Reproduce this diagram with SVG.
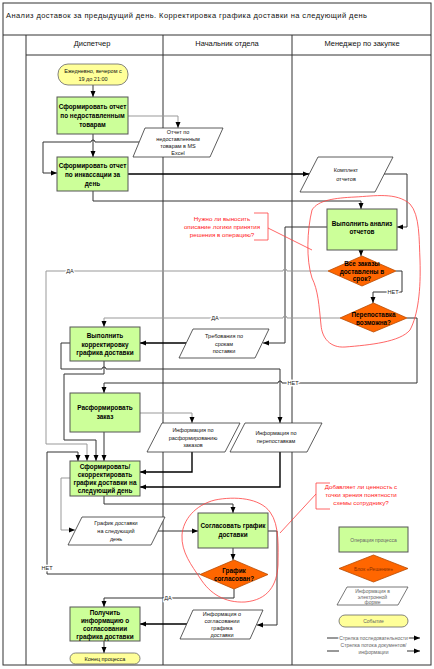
<svg xmlns="http://www.w3.org/2000/svg" width="434" height="669" viewBox="0 0 434 669">
<style>
.frame{fill:none;stroke:#333;stroke-width:1}
.op{fill:#ccff99;stroke:#555;stroke-width:1}
.dec{fill:#ff6600;stroke:#b84a00;stroke-width:0.8}
.ev{fill:#ffff99;stroke:#666;stroke-width:0.8}
.data{fill:#fff;stroke:#333;stroke-width:0.8}
.t{font-family:"Liberation Sans",Arial,sans-serif;font-size:5.5px;fill:#111;text-anchor:middle}
.tb{font-weight:bold;font-size:6.4px;fill:#000}
.hd{font-size:7.5px}
.lbl{font-size:5.5px;stroke:#fff;stroke-width:2.5;paint-order:stroke;fill:#222}
.ln{fill:none;stroke:#333;stroke-width:1}
.lg{fill:none;stroke:#999;stroke-width:1}
.lk{fill:none;stroke:#000;stroke-width:1.4}
.red{fill:none;stroke:#ff4040;stroke-width:0.8}
.rt{fill:#ff2020;font-size:6.2px}
.lgd{fill:#666;font-size:5px}
</style>
<defs>
<marker id="ah" viewBox="0 0 6 6" refX="6" refY="3" markerWidth="6" markerHeight="6" markerUnits="userSpaceOnUse" orient="auto"><path d="M0,0.5 L6,3 L0,5.5 z" fill="#000"/></marker>
</defs>
<rect width="434" height="669" fill="#fff"/>

<g id="frame">
<rect class="frame" x="3" y="3" width="428" height="662"/>
<line class="frame" x1="3" y1="35" x2="431" y2="35"/>
<line class="frame" x1="26" y1="55" x2="431" y2="55"/>
<line class="frame" x1="26" y1="35" x2="26" y2="665"/>
<line class="frame" x1="163" y1="35" x2="163" y2="665"/>
<line class="frame" x1="292" y1="35" x2="292" y2="665"/>
<text class="t hd" x="6" y="18" text-anchor="start" style="text-anchor:start" textLength="361" lengthAdjust="spacing">Анализ доставок за предыдущий день. Корректировка графика доставки на следующий день</text>
<text class="t hd" x="92" y="46">Диспетчер</text>
<text class="t hd" x="227" y="46">Начальник отдела</text>
<text class="t hd" x="362" y="46">Менеджер по закупке</text>
</g>

<g id="connectors">
<path class="ln" d="M93,85 V97" marker-end="url(#ah)"/>
<path class="lg" d="M128,116 H178 V128" marker-end="url(#ah)"/>
<path class="ln" d="M93,134 V157" marker-end="url(#ah)"/>
<path class="ln" d="M139,142 H95 a2,2 0 0 0 -4,0 H43 V173 H57" marker-end="url(#ah)"/>
<path class="lk" d="M128,174 H309" marker-end="url(#ah)"/>
<path class="ln" d="M93,191 V201 H361 V209" marker-end="url(#ah)"/>
<path class="ln" d="M384,174 H407 V227 H397" marker-end="url(#ah)"/>
<path class="ln" d="M327,227 H285 V343 H263" marker-end="url(#ah)"/>
<path class="ln" d="M361,250 V256" marker-end="url(#ah)"/>
<path class="lg" d="M328,271 H287 a2,2 0 0 0 -4,0 H46 V444 H87 V461" marker-end="url(#ah)"/>
<path class="ln" d="M396,271 H402 V292 H373 V303" marker-end="url(#ah)"/>
<path class="lg" d="M340,318 H287 a2,2 0 0 0 -4,0 H104 V327" marker-end="url(#ah)"/>
<path class="ln" d="M407,318 H417 V383 H282 a2,2 0 0 0 -4,0 H104 V393" marker-end="url(#ah)"/>
<path class="lk" d="M186,343 H140" marker-end="url(#ah)"/>
<path class="ln" d="M70,343 H61 V369 H102 a2,2 0 0 1 4,0 H280 V423" marker-end="url(#ah)"/>
<path class="ln" d="M104,361 V374 H64 V440 H96 V461" marker-end="url(#ah)"/>
<path class="lg" d="M140,413 H192 V423" marker-end="url(#ah)"/>
<path class="ln" d="M104,432 V461" marker-end="url(#ah)"/>
<path class="lk" d="M192,452 V472 H140" marker-end="url(#ah)"/>
<path class="lk" d="M280,452 V487 H140" marker-end="url(#ah)"/>
<path class="ln" d="M104,496 V504 H233 V513" marker-end="url(#ah)"/>
<path class="lg" d="M70,478 H61 V530 H75" marker-end="url(#ah)"/>
<path class="ln" d="M158,531 H198" marker-end="url(#ah)"/>
<path class="ln" d="M233,548 V560" marker-end="url(#ah)"/>
<path class="ln" d="M200,574 H47 V452 H78 V461" marker-end="url(#ah)"/>
<path class="ln" d="M234,589 V598 H104 V607" marker-end="url(#ah)"/>
<path class="ln" d="M268,531 H277 V625 H257" marker-end="url(#ah)"/>
<path class="lk" d="M187,624 H140" marker-end="url(#ah)"/>
<path class="ln" d="M104,641 V653" marker-end="url(#ah)"/>
<text class="t lbl" x="70" y="273">ДА</text>
<text class="t lbl" x="393" y="294">НЕТ</text>
<text class="t lbl" x="215" y="320">ДА</text>
<text class="t lbl" x="293" y="385">НЕТ</text>
<text class="t lbl" x="47" y="570">НЕТ</text>
<text class="t lbl" x="168" y="600">ДА</text>
</g>

<g id="start">
<rect class="ev" x="58" y="64" width="70" height="21" rx="10"/>
<text class="t" x="93" y="73">Ежедневно, вечером с</text>
<text class="t" x="93" y="80.5">19 до 21:00</text>
</g>
<g id="op-report-undelivered">
<rect class="op" x="57" y="97" width="71" height="37"/>
<text class="t tb" x="92.5" y="109">Сформировать отчет</text>
<text class="t tb" x="92.5" y="118">по недоставленным</text>
<text class="t tb" x="92.5" y="127">товарам</text>
</g>
<g id="data-excel">
<polygon class="data" points="145,128 223,128 210,157 133,157"/>
<text class="t" x="178" y="134">Отчет по</text>
<text class="t" x="178" y="141">недоставленным</text>
<text class="t" x="178" y="148">товарам в MS</text>
<text class="t" x="178" y="155">Excel</text>
</g>
<g id="op-report-cash">
<rect class="op" x="57" y="157" width="71" height="34"/>
<text class="t tb" x="92.5" y="168">Сформировать отчет</text>
<text class="t tb" x="92.5" y="177">по инкассации за</text>
<text class="t tb" x="92.5" y="186">день</text>
</g>
<g id="data-set">
<polygon class="data" points="318,157 393,157 375,192 300,192"/>
<text class="t" x="346" y="172">Комплект</text>
<text class="t" x="346" y="181">отчетов</text>
</g>
<g id="op-analysis">
<rect class="op" x="327" y="209" width="70" height="41"/>
<text class="t tb" x="362" y="226">Выполнить анализ</text>
<text class="t tb" x="362" y="234">отчетов</text>
</g>
<g id="dec-ontime">
<polygon class="dec" points="362,256 396,271 362,286 328,271"/>
<text class="t tb" x="362" y="266">Все заказы</text>
<text class="t tb" x="362" y="273.5">доставлены в</text>
<text class="t tb" x="362" y="281">срок?</text>
</g>
<g id="dec-redelivery">
<polygon class="dec" points="373.5,303 407,318 373.5,332 340,318"/>
<text class="t tb" x="373.5" y="317">Перепоставка</text>
<text class="t tb" x="373.5" y="325">возможна?</text>
</g>
<g id="data-requirements">
<polygon class="data" points="193,329 269,329 255,358 179,358"/>
<text class="t" x="224" y="338">Требования по</text>
<text class="t" x="224" y="345.5">срокам</text>
<text class="t" x="224" y="353">поставки</text>
</g>
<g id="op-correct">
<rect class="op" x="70" y="327" width="70" height="34"/>
<text class="t tb" x="105" y="338">Выполнить</text>
<text class="t tb" x="105" y="346.5">корректировку</text>
<text class="t tb" x="105" y="355">графика доставки</text>
</g>
<g id="op-disband">
<rect class="op" x="70" y="393" width="70" height="39"/>
<text class="t tb" x="105" y="410">Расформировать</text>
<text class="t tb" x="105" y="419">заказ</text>
</g>
<g id="data-disband">
<polygon class="data" points="162,423 240,423 225,452 147,452"/>
<text class="t" x="193" y="432">Информация по</text>
<text class="t" x="193" y="439.5">расформированию</text>
<text class="t" x="193" y="447">заказов</text>
</g>
<g id="data-redelivery">
<polygon class="data" points="245,423 322,423 307,452 230,452"/>
<text class="t" x="276" y="435">Информация по</text>
<text class="t" x="276" y="443">перепоставкам</text>
</g>
<g id="op-schedule">
<rect class="op" x="70" y="461" width="70" height="35"/>
<text class="t tb" x="105" y="469">Сформировать/</text>
<text class="t tb" x="105" y="477">скорректировать</text>
<text class="t tb" x="105" y="485">график доставки на</text>
<text class="t tb" x="105" y="493">следующий день</text>
</g>
<g id="data-schedule">
<polygon class="data" points="82,517 165,517 151,545 68,545"/>
<text class="t" x="116" y="525">График доставки</text>
<text class="t" x="116" y="533">на следующий</text>
<text class="t" x="116" y="540.5">день</text>
</g>
<g id="op-approve">
<rect class="op" x="198" y="513" width="70" height="35"/>
<text class="t tb" x="233" y="528">Согласовать график</text>
<text class="t tb" x="233" y="537">доставки</text>
</g>
<g id="dec-approved">
<polygon class="dec" points="234,560 268,574.5 234,589 200,574.5"/>
<text class="t tb" x="234" y="573">График</text>
<text class="t tb" x="234" y="581">согласован?</text>
</g>
<g id="data-approval">
<polygon class="data" points="193,610 263,610 250,639 180,639"/>
<text class="t" x="222" y="616">Информация о</text>
<text class="t" x="222" y="623">согласовании</text>
<text class="t" x="222" y="630">графика</text>
<text class="t" x="222" y="637">доставки</text>
</g>
<g id="op-receive">
<rect class="op" x="70" y="607" width="70" height="34"/>
<text class="t tb" x="105" y="615">Получить</text>
<text class="t tb" x="105" y="623">информацию о</text>
<text class="t tb" x="105" y="631">согласовании</text>
<text class="t tb" x="105" y="639">графика доставки</text>
</g>
<g id="end">
<rect class="ev" x="70" y="653" width="70" height="11" rx="5.5"/>
<text class="t" x="105" y="660.5">Конец процесса</text>
</g>

<g id="note-1">
<path class="red" d="M312,210 C318,200 335,198 355,197 C375,196 396,192 410,204 C420,215 419,240 420,260 C421,290 418,315 410,330 C400,342 370,345 345,347 C330,348 322,338 321,325 C319,305 318,290 312,278 C306,260 307,230 312,210 Z"/>
<path class="red" d="M254,213 H268 V240 H254 M268,228 L312,250"/>
<text class="t rt" x="222" y="220.5">Нужно ли выносить</text>
<text class="t rt" x="222" y="228.5">описание логики принятия</text>
<text class="t rt" x="222" y="236.5">решения в операцию?</text>
</g>
<g id="note-2">
<path class="red" d="M182,535 C183,520 195,505 215,500 C235,496 260,498 270,512 C280,525 278,550 278,565 C277,585 268,600 245,602 C225,603 210,594 200,578 C192,566 181,552 182,535 Z"/>
<path class="red" d="M330,483 H316 V509 H330 M316,494 L280,533"/>
<text class="t rt" x="361" y="489">Добавляет ли ценность с</text>
<text class="t rt" x="361" y="497">точки зрения понятности</text>
<text class="t rt" x="361" y="505">схемы сотруднику?</text>
</g>

<g id="legend">
<rect class="op" x="339" y="527" width="69" height="25"/>
<text class="t lgd" x="373.5" y="541.5">Операция процесса</text>
<polygon class="dec" points="373.5,555 408,568.5 373.5,582 339,568.5"/>
<text class="t lgd" x="373.5" y="570.5" style="fill:#8a3000">Блок «Решение»</text>
<polygon class="data" points="347,587 408,587 398,605 337,605" style="stroke:#555"/>
<text class="t lgd" x="372.5" y="593">Информация в</text>
<text class="t lgd" x="372.5" y="598.5">электронной</text>
<text class="t lgd" x="372.5" y="604">форме</text>
<rect class="ev" x="339" y="615" width="69" height="12" rx="6"/>
<text class="t lgd" x="373.5" y="622.5">Событие</text>
<path class="ln" d="M327,638 H420" marker-end="url(#ah)"/>
<text class="t lgd" x="373.5" y="640" style="stroke:#fff;stroke-width:2.5;paint-order:stroke">Стрелка последовательности</text>
<path class="ln" d="M327,651 H339 M407,651 H420" marker-end="url(#ah)"/>
<text class="t lgd" x="373.5" y="647">Стрелка потока документов/</text>
<text class="t lgd" x="373.5" y="654">информации</text>
</g>
</svg>
